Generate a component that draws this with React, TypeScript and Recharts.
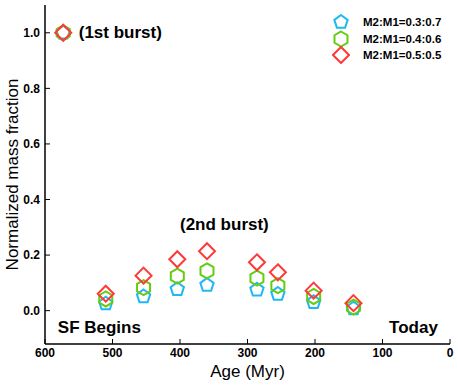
import {
  Legend,
  ReferenceDot,
  Scatter,
  ScatterChart,
  XAxis,
  YAxis,
} from "recharts";

// Age (Myr) of each burst, first one is the "1st burst" point
const AGES = [573, 510, 454, 404, 360, 286, 255, 202, 143];
const FRAC_03 = [1.0, 0.025, 0.051, 0.077, 0.092, 0.075, 0.06, 0.03, 0.007];
const FRAC_04 = [1.0, 0.042, 0.083, 0.124, 0.143, 0.117, 0.09, 0.051, 0.013];
const FRAC_05 = [1.0, 0.061, 0.126, 0.185, 0.214, 0.174, 0.138, 0.072, 0.027];
const X_TICKS = [0, 100, 200, 300, 400, 500, 600];
const Y_TICKS = [0, 0.2, 0.4, 0.6, 0.8, 1.0];

const FONT = '"Liberation Sans", Arial, Helvetica, sans-serif';
const BLUE = "#1fb8f2";
const GREEN = "#66cc11";
const RED = "#ff3838";

const toPoints = (ys: number[]) => AGES.map((age, i) => ({ age, frac: ys[i] }));

const poly = (cx: number, cy: number, n: number, r: number, rot: number) =>
  Array.from({ length: n }, (_, k) => {
    const a = rot + (k * 2 * Math.PI) / n;
    return `${cx + r * Math.cos(a)},${cy + r * Math.sin(a)}`;
  }).join(" ");

const Pentagon = ({ cx, cy, color }: any) => (
  <polygon points={poly(cx, cy, 5, 7, -Math.PI / 2)} fill="none" stroke={color} strokeWidth={2} />
);
const Hexagon = ({ cx, cy, color }: any) => (
  <polygon points={poly(cx, cy, 6, 7.5, -Math.PI / 2)} fill="none" stroke={color} strokeWidth={2} />
);
const Diamond = ({ cx, cy, color }: any) => (
  <polygon points={poly(cx, cy, 4, 8, -Math.PI / 2)} fill="none" stroke={color} strokeWidth={2} />
);

const SERIES = [
  { name: "M2:M1=0.3:0.7", data: toPoints(FRAC_03), color: BLUE, Shape: Pentagon },
  { name: "M2:M1=0.4:0.6", data: toPoints(FRAC_04), color: GREEN, Shape: Hexagon },
  { name: "M2:M1=0.5:0.5", data: toPoints(FRAC_05), color: RED, Shape: Diamond },
];

const NOTES = [
  { text: "(1st burst)", age: 550, frac: 1.0, anchor: "start" },
  { text: "(2nd burst)", age: 400, frac: 0.31, anchor: "start" },
  { text: "SF Begins", age: 581, frac: -0.06, anchor: "start" },
  { text: "Today", age: 18, frac: -0.06, anchor: "end" },
];

const LegendBox = () => (
  <div style={{ fontFamily: FONT, fontSize: 11.5, fontWeight: "bold", lineHeight: "16.6px" }}>
    {SERIES.map(({ name, color, Shape }) => (
      <div key={name} style={{ display: "flex", alignItems: "center", height: 16.6 }}>
        <svg width={18} height={18} style={{ marginRight: 13 }}>
          <Shape cx={9} cy={9} color={color} />
        </svg>
        <span>{name}</span>
      </div>
    ))}
  </div>
);

const noTick = () => <g />;

export default function App() {
  return (
    <div style={{ position: "absolute", left: 0, top: 0, background: "#fff" }}>
      <ScatterChart
        width={458}
        height={385}
        margin={{ top: 5, right: 8, bottom: 0, left: 0 }}
        style={{ fontFamily: FONT }}
      >
        <XAxis
          xAxisId="b"
          dataKey="age"
          type="number"
          domain={[0, 600]}
          ticks={X_TICKS}
          reversed
          height={41}
          tickSize={-5}
          tickMargin={9}
          stroke="#000"
          axisLine={{ stroke: "#000", strokeWidth: 1.5 }}
          tick={{ fill: "#000", fontSize: 12, fontWeight: "bold" }}
          label={{ value: "Age (Myr)", position: "insideBottom", offset: 8, fill: "#000", fontSize: 17 }}
        />
        <XAxis
          xAxisId="t"
          orientation="top"
          type="number"
          domain={[0, 600]}
          ticks={X_TICKS}
          reversed
          height={0}
          tickSize={-5}
          stroke="#000"
          axisLine={{ stroke: "#000", strokeWidth: 1.5 }}
          tick={noTick}
        />
        <YAxis
          yAxisId="l"
          dataKey="frac"
          type="number"
          domain={[-0.12, 1.1]}
          ticks={Y_TICKS}
          width={45}
          tickSize={-5}
          tickMargin={10}
          stroke="#000"
          axisLine={{ stroke: "#000", strokeWidth: 1.5 }}
          tickFormatter={(v: number) => v.toFixed(1)}
          tick={{ fill: "#000", fontSize: 12, fontWeight: "bold" }}
          label={{
            value: "Normalized mass fraction",
            angle: -90,
            position: "insideLeft",
            offset: 12,
            style: { textAnchor: "middle" },
            fill: "#000",
            fontSize: 17,
          }}
        />
        <YAxis
          yAxisId="r"
          orientation="right"
          type="number"
          domain={[-0.12, 1.1]}
          ticks={Y_TICKS}
          width={0}
          tickSize={-5}
          stroke="#000"
          axisLine={{ stroke: "#000", strokeWidth: 1.5 }}
          tick={noTick}
        />
        {SERIES.map(({ name, data, color, Shape }) => (
          <Scatter
            key={name}
            name={name}
            data={data}
            xAxisId="b"
            yAxisId="l"
            isAnimationActive={false}
            shape={(p: any) => <Shape cx={p.cx} cy={p.cy} color={color} />}
          />
        ))}
        {NOTES.map((n) => (
          <ReferenceDot
            key={n.text}
            x={n.age}
            y={n.frac}
            xAxisId="b"
            yAxisId="l"
            ifOverflow="visible"
            shape={(p: any) => (
              <text
                x={p.cx}
                y={p.cy}
                dominantBaseline="central"
                textAnchor={n.anchor}
                fontSize={17}
                fontWeight="bold"
                fill="#000"
              >
                {n.text}
              </text>
            )}
          />
        ))}
        <Legend
          layout="vertical"
          align="center"
          verticalAlign="middle"
          content={LegendBox}
          wrapperStyle={{ top: 14, left: 332, width: "auto" }}
        />
      </ScatterChart>
    </div>
  );
}
